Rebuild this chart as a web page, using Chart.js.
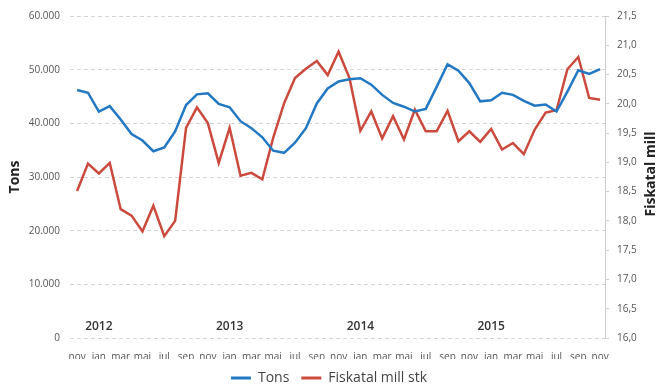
<!DOCTYPE html>
<html lang="no">
<head>
    <meta charset="UTF-8">
    <title>Tons og fiskatal</title>
    <style>
        body {
            margin: 0;
            background: white;
        }
        #chart {
            display: block;
        }
    </style>
</head>
<body>
    <canvas id="chart" width="658" height="385"></canvas>

    <script src="https://cdn.jsdelivr.net/npm/chart.js"></script>
    <script>
        // nov 2011 - nov 2015, one entry per month
        const months = [
            'nov', 'des',
            'jan', 'feb', 'mar', 'apr', 'mai', 'jun', 'jul', 'aug', 'sep', 'okt', 'nov', 'des',
            'jan', 'feb', 'mar', 'apr', 'mai', 'jun', 'jul', 'aug', 'sep', 'okt', 'nov', 'des',
            'jan', 'feb', 'mar', 'apr', 'mai', 'jun', 'jul', 'aug', 'sep', 'okt', 'nov', 'des',
            'jan', 'feb', 'mar', 'apr', 'mai', 'jun', 'jul', 'aug', 'sep', 'okt', 'nov'
        ];
        const years = ['2012', '2013', '2014', '2015'];

        const tons = [
            46200, 45700,
            42200, 43200, 40700, 38000, 36800, 34800, 35500, 38500, 43400, 45400, 45600, 43600,
            43000, 40400, 39100, 37400, 34900, 34500, 36400, 39100, 43700, 46500, 47800, 48200,
            48400, 47200, 45300, 43800, 43100, 42200, 42700, 46800, 51000, 49800, 47500, 44100,
            44300, 45700, 45300, 44200, 43300, 43500, 42200, 45900, 49900, 49200, 50100
        ];
        const fiskatal = [
            18.51, 18.98,
            18.81, 18.99, 18.20, 18.09, 17.82, 18.26, 17.74, 18.00, 19.59, 19.94, 19.67, 18.99,
            19.59, 18.77, 18.82, 18.71, 19.42, 20.01, 20.44, 20.60, 20.73, 20.49, 20.89, 20.44,
            19.54, 19.87, 19.41, 19.79, 19.39, 19.90, 19.53, 19.53, 19.88, 19.36, 19.53, 19.35,
            19.57, 19.22, 19.33, 19.14, 19.56, 19.85, 19.89, 20.59, 20.80, 20.10, 20.07
        ];

        const BLUE = '#2378c3';
        const RED = '#cb4a3d';
        const FONT = "'Open Sans', sans-serif";

        // year captions sit above the January tick of each year
        const yearLabels = {
            id: 'yearLabels',
            afterDraw(chart) {
                const ctx = chart.ctx;
                const x = chart.scales.x;
                const janIdx = months.map((m, i) => m === 'jan' ? i : -1).filter(i => i >= 0);
                ctx.save();
                ctx.font = '600 12px ' + FONT;
                ctx.fillStyle = '#333';
                ctx.textAlign = 'center';
                ctx.textBaseline = 'middle';
                years.forEach((y, k) => {
                    ctx.fillText(y, x.getPixelForValue(janIdx[k]), 327);
                });
                ctx.restore();
            }
        };

        // right axis title, reading upwards
        const rightTitle = {
            id: 'rightTitle',
            afterDraw(chart) {
                const ctx = chart.ctx;
                const a = chart.chartArea;
                ctx.save();
                ctx.translate(651, (a.top + a.bottom) / 2 - 3);
                ctx.rotate(-Math.PI / 2);
                ctx.font = 'bold 14px ' + FONT;
                ctx.fillStyle = '#222';
                ctx.textAlign = 'center';
                ctx.textBaseline = 'middle';
                ctx.fillText('Fiskatal mill', 0, 0);
                ctx.restore();
            }
        };

        function thousands(v) {
            return v === 0 ? '0' : v.toLocaleString('de-DE');
        }

        function renderChart() {
            const ctx = document.getElementById('chart').getContext('2d');
            new Chart(ctx, {
                type: 'line',
                data: {
                    datasets: [{
                        label: 'Tons',
                        data: tons.map((v, i) => ({ x: i, y: v })),
                        borderColor: BLUE,
                        backgroundColor: BLUE,
                        borderWidth: 2.5,
                        pointRadius: 0,
                        yAxisID: 'y'
                    }, {
                        label: 'Fiskatal mill stk',
                        data: fiskatal.map((v, i) => ({ x: i, y: v })),
                        borderColor: RED,
                        backgroundColor: RED,
                        borderWidth: 2.5,
                        pointRadius: 0,
                        yAxisID: 'y1'
                    }]
                },
                options: {
                    responsive: false,
                    animation: false,
                    layout: { padding: { top: 14, left: 0, right: 0, bottom: -10 } },
                    plugins: {
                        tooltip: { enabled: false },
                        legend: {
                            position: 'bottom',
                            labels: {
                                font: { family: FONT, size: 14 },
                                color: '#444',
                                boxWidth: 20,
                                boxHeight: 3,
                                padding: 12,
                                generateLabels(chart) {
                                    const items = Chart.defaults.plugins.legend.labels.generateLabels(chart);
                                    items.forEach(it => { it.lineWidth = 0; });
                                    return items;
                                }
                            }
                        }
                    },
                    scales: {
                        x: {
                            type: 'linear',
                            min: -0.65,
                            max: 48.45,
                            afterFit(scale) { scale.height = 21; },
                            afterBuildTicks(scale) {
                                scale.ticks = months.map((m, i) => ({ value: i })).filter(t => t.value % 2 === 0);
                            },
                            grid: { display: false },
                            border: { display: false },
                            ticks: {
                                autoSkip: false,
                                maxRotation: 0,
                                padding: 5,
                                color: '#555',
                                font: { family: FONT, size: 10 },
                                callback: v => months[v]
                            }
                        },
                        y: {
                            position: 'left',
                            min: 0,
                            max: 60000,
                            afterFit(scale) { scale.width = 70; },
                            grid: {
                                color: '#d4d4d4',
                                drawTicks: false
                            },
                            border: { display: false, dash: [4, 3] },
                            ticks: {
                                stepSize: 10000,
                                padding: 10,
                                color: '#555',
                                font: { family: FONT, size: 10 },
                                callback: thousands
                            },
                            title: {
                                display: true,
                                text: 'Tons',
                                color: '#222',
                                font: { family: FONT, size: 14, weight: 'bold' },
                                padding: { top: 7 }
                            }
                        },
                        y1: {
                            position: 'right',
                            min: 16,
                            max: 21.5,
                            afterFit(scale) { scale.width = 53; },
                            grid: {
                                drawOnChartArea: false,
                                color: '#cfcfcf',
                                tickLength: 4
                            },
                            border: { display: true, color: '#cfcfcf', dash: [2, 2] },
                            ticks: {
                                stepSize: 0.5,
                                padding: 8,
                                color: '#555',
                                font: { family: FONT, size: 10 },
                                callback: v => v.toFixed(1).replace('.', ',')
                            }
                        }
                    }
                },
                plugins: [yearLabels, rightTitle]
            });
        }

        renderChart();
    </script>
</body>
</html>
